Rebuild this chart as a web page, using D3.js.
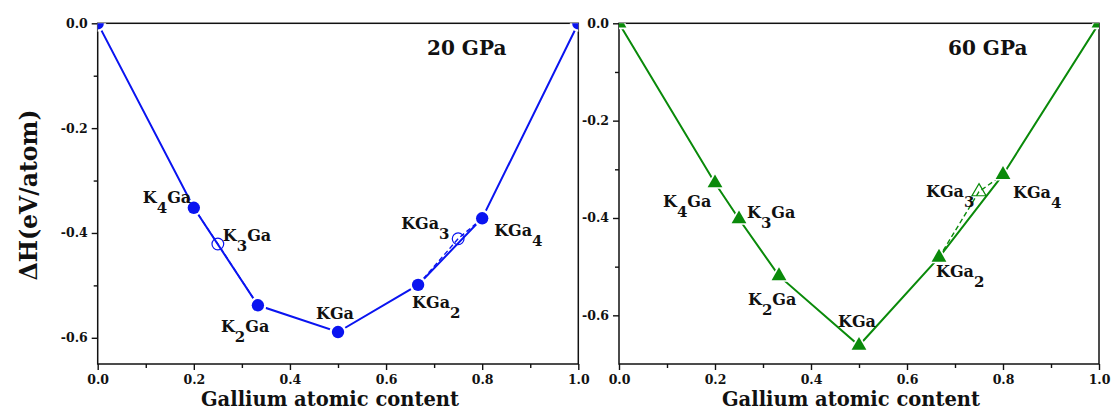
<!DOCTYPE html>
<html lang="en">
<head>
    <meta charset="UTF-8">
    <title>K-Ga formation enthalpy</title>
    <script src="https://cdn.jsdelivr.net/npm/d3@7"></script>
    <style>
        body { margin: 0; background: #fff; }
        svg text { font-family: "DejaVu Serif", serif; font-weight: bold; fill: #111; }
    </style>
</head>
<body>
<script>
    // compositions and formation enthalpies (eV/atom)
    const gaContent = [0, 0.2, 0.25, 1 / 3, 0.5, 2 / 3, 0.75, 0.8, 1]
    const phases = ['K', 'K4Ga', 'K3Ga', 'K2Ga', 'KGa', 'KGa2', 'KGa3', 'KGa4', 'Ga']
    const dH20 = [0, -0.352, -0.421, -0.538, -0.589, -0.499, -0.411, -0.372, 0]
    const dH60 = [0, -0.328, -0.402, -0.519, -0.662, -0.481, -0.346, -0.311, 0]
    const onHull20 = [true, true, false, true, true, true, false, true, true]
    const onHull60 = [true, true, true, true, true, true, false, true, true]
    const xTicks = [0, 0.2, 0.4, 0.6, 0.8, 1.0]
    const yTicks = [0, -0.2, -0.4, -0.6]

    const [width, height] = [1111, 412]
    const svg = d3.select('body').append('svg')
        .attr('width', width)
        .attr('height', height)

    // label pieces: [text, isSubscript]
    const labelParts = {
        K4Ga: [['K', 0], ['4', 1], ['Ga', 0]],
        K3Ga: [['K', 0], ['3', 1], ['Ga', 0]],
        K2Ga: [['K', 0], ['2', 1], ['Ga', 0]],
        KGa: [['KGa', 0]],
        KGa2: [['KGa', 0], ['2', 1]],
        KGa3: [['KGa', 0], ['3', 1]],
        KGa4: [['KGa', 0], ['4', 1]]
    }

    const panels = [
        {
            id: 'p20', title: '20 GPa', values: dH20, hull: onHull20, color: '#0a14f0', marker: 'circle',
            left: 97.7, right: 578.3, top: 23.3, bottom: 364, yMin: -0.65, titleX: 427, yTitle: true,
            offsets: {K4Ga: [-51, -5], K3Ga: [5, -3], K2Ga: [-37, 27], KGa: [-22, -13],
                KGa2: [-6, 23], KGa3: [-57, -10], KGa4: [12, 18]}
        },
        {
            id: 'p60', title: '60 GPa', values: dH60, hull: onHull60, color: '#0a8a0a', marker: 'triangle',
            left: 619, right: 1099, top: 23.3, bottom: 364, yMin: -0.70, titleX: 948, yTitle: false,
            offsets: {K4Ga: [-52, 24], K3Ga: [8, -1], K2Ga: [-31, 29], KGa: [-21, -19],
                KGa2: [-3, 20], KGa3: [-53, 5], KGa4: [10, 23]}
        }
    ]

    const drawPanel = p => {
        const x = d3.scaleLinear().domain([0, 1]).range([p.left, p.right])
        const y = d3.scaleLinear().domain([p.yMin, 0]).range([p.bottom, p.top])
        const g = svg.append('g')
        const pts = gaContent.map((c, i) => ({c, v: p.values[i], name: phases[i], hull: p.hull[i]}))

        svg.append('clipPath').attr('id', 'clip-' + p.id)
            .append('rect')
            .attr('x', p.left).attr('y', p.top)
            .attr('width', p.right - p.left).attr('height', p.bottom - p.top)

        // minor ticks
        g.append('g').attr('transform', `translate(0,${p.bottom})`)
            .call(d3.axisBottom(x).tickValues([0.1, 0.3, 0.5, 0.7, 0.9]).tickSize(4).tickFormat(''))
        g.append('g').attr('transform', `translate(${p.left},0)`)
            .call(d3.axisLeft(y).tickValues([-0.1, -0.3, -0.5]).tickSize(4).tickFormat(''))

        // major ticks
        g.append('g').attr('transform', `translate(0,${p.bottom})`)
            .call(d3.axisBottom(x).tickValues(xTicks).tickSize(6).tickPadding(5).tickFormat(d => d.toFixed(1)))
        g.append('g').attr('transform', `translate(${p.left},0)`)
            .call(d3.axisLeft(y).tickValues(yTicks).tickSize(6).tickPadding(4).tickFormat(d => d.toFixed(1)))
        g.selectAll('.domain').remove()
        g.selectAll('.tick line').attr('stroke', '#111').attr('stroke-width', 1.4)
        g.selectAll('.tick text').attr('font-size', 12.5).attr('font-family', 'DejaVu Serif')
            .attr('font-weight', 'bold').attr('fill', '#111')

        // frame
        g.append('rect')
            .attr('x', p.left).attr('y', p.top)
            .attr('width', p.right - p.left).attr('height', p.bottom - p.top)
            .attr('fill', 'none').attr('stroke', '#111').attr('stroke-width', 1.5)

        const plot = g.append('g').attr('clip-path', `url(#clip-${p.id})`)
        const line = d3.line().x(d => x(d.c)).y(d => y(d.v))

        // metastable branch (dashed)
        pts.filter(d => !d.hull).forEach(m => {
            const i = pts.indexOf(m)
            plot.append('path').attr('d', line([pts[i - 1], m, pts[i + 1]]))
                .attr('fill', 'none').attr('stroke', p.color).attr('stroke-width', 1.4)
                .attr('stroke-dasharray', '5,3')
        })

        // convex hull
        plot.append('path').attr('d', line(pts.filter(d => d.hull)))
            .attr('fill', 'none').attr('stroke', p.color).attr('stroke-width', 2)

        const sym = p.marker === 'circle' ? d3.symbolCircle : d3.symbolTriangle
        const size = p.marker === 'circle' ? 120 : 95
        // white halo leaves small gaps in the line around filled markers
        plot.selectAll('path.halo').data(pts.filter(d => d.hull)).enter()
            .append('path').attr('class', 'halo')
            .attr('d', d3.symbol().type(sym).size(size * 1.9))
            .attr('transform', d => `translate(${x(d.c)},${y(d.v)})`)
            .attr('fill', '#fff')
        plot.selectAll('path.mk').data(pts).enter()
            .append('path').attr('class', 'mk')
            .attr('d', d3.symbol().type(sym).size(d => d.hull ? size : size * 0.9))
            .attr('transform', d => `translate(${x(d.c)},${y(d.v)})`)
            .attr('fill', d => d.hull ? p.color : 'none')
            .attr('stroke', p.color)
            .attr('stroke-width', d => d.hull ? 0 : 1.2)

        // phase labels
        pts.filter(d => labelParts[d.name]).forEach(d => {
            const [dx, dy] = p.offsets[d.name]
            const t = g.append('text')
                .attr('x', x(d.c) + dx).attr('y', y(d.v) + dy)
                .attr('font-size', 16)
            let sub = false
            labelParts[d.name].forEach(([s, isSub]) => {
                const ts = t.append('tspan').text(s)
                if (isSub && !sub) ts.attr('dy', 10).attr('font-size', 15)
                if (!isSub && sub) ts.attr('dy', -10)
                sub = !!isSub
            })
        })

        g.append('text').attr('x', p.titleX).attr('y', 55)
            .attr('font-size', 20).text(p.title)

        g.append('text')
            .attr('x', (p.left + p.right) / 2 - 8).attr('y', 406)
            .attr('text-anchor', 'middle').attr('font-size', 19.5)
            .text('Gallium atomic content')

        if (p.yTitle) {
            g.append('text')
                .attr('transform', 'translate(37,195) rotate(-90)')
                .attr('text-anchor', 'middle').attr('font-size', 23.5)
                .text('ΔH(eV/atom)')
        }
    }

    panels.forEach(drawPanel)
</script>
</body>
</html>
